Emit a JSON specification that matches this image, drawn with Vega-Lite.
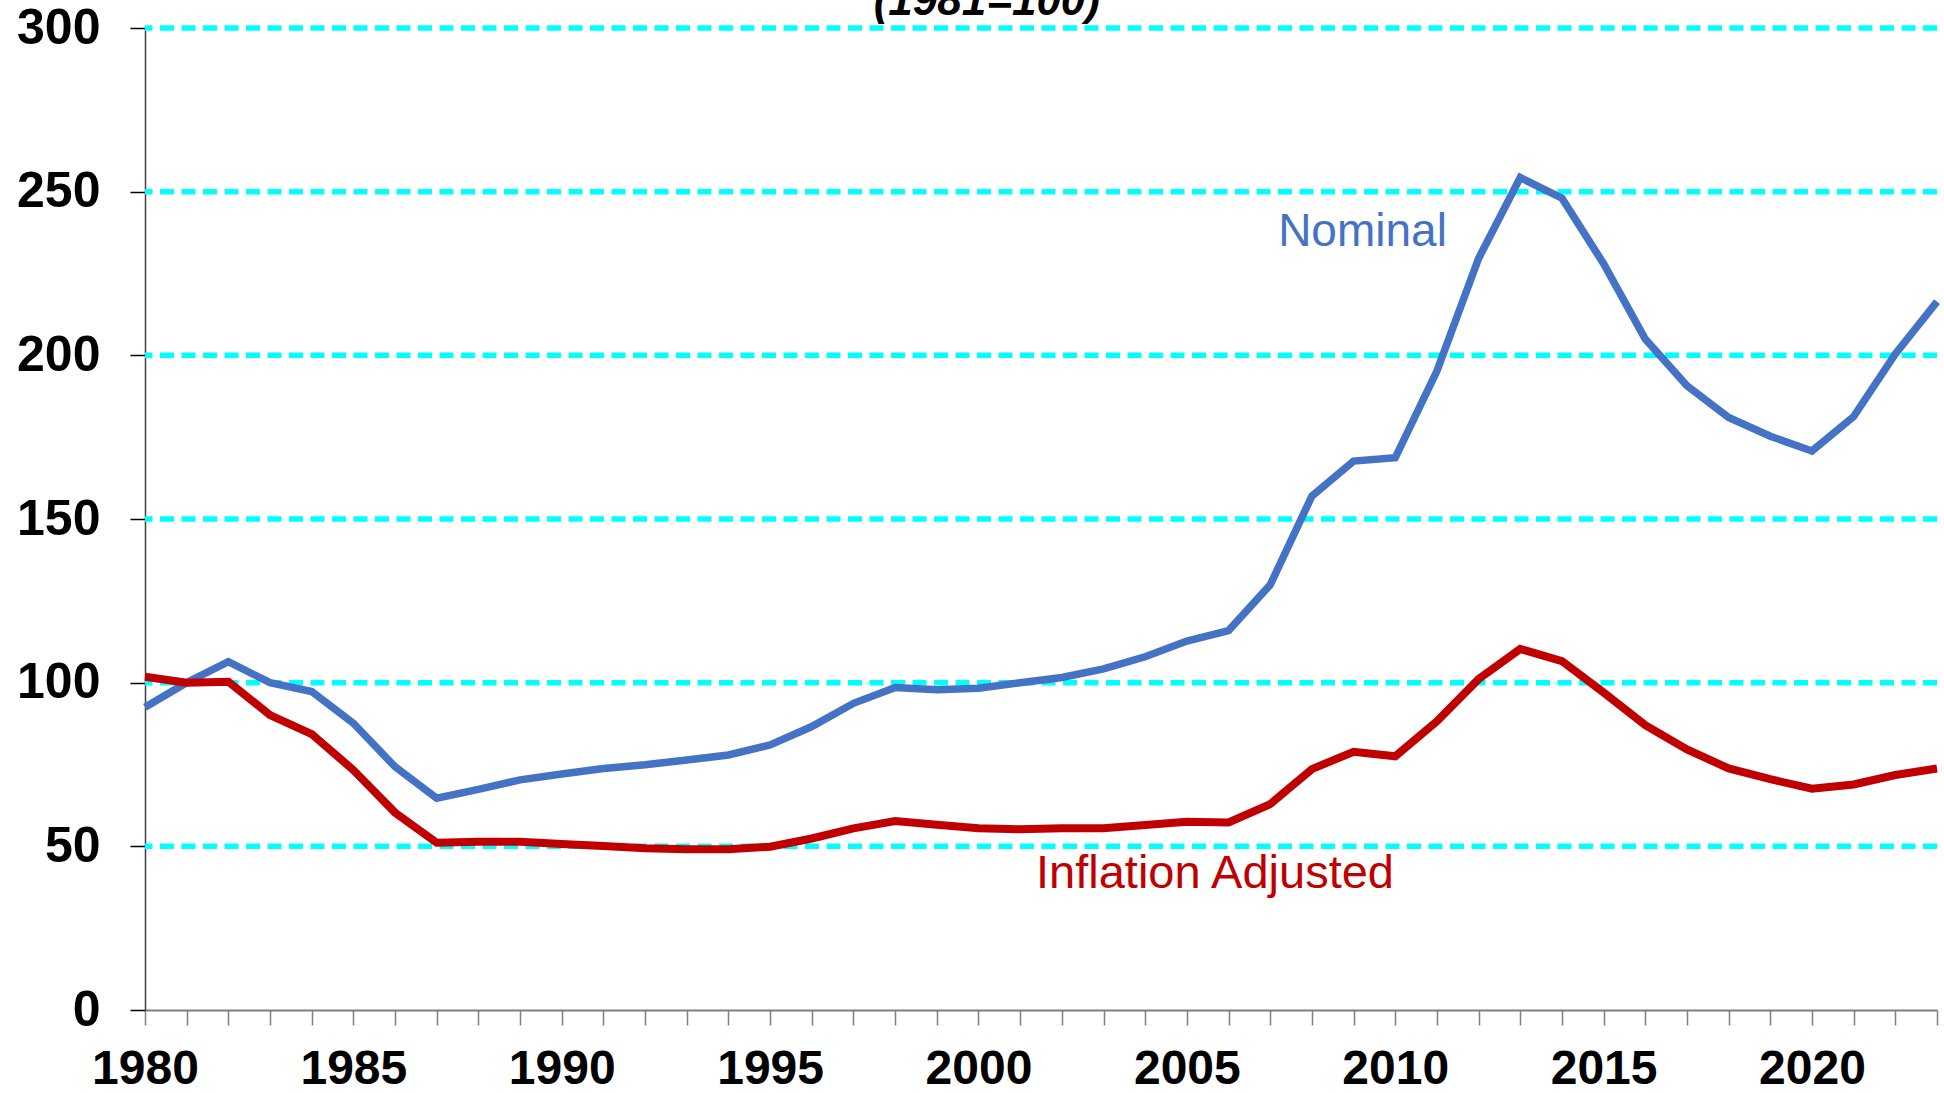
{
  "$schema": "https://vega.github.io/schema/vega-lite/v6.json",
  "width": 1792,
  "height": 982,
  "autosize": "none",
  "padding": {"left": 145, "top": 28, "right": 7, "bottom": 83},
  "background": "white",
  "config": {"view": {"stroke": null}},
  "datasets": {
    "series": [
      {"year": 1980, "series": "Nominal", "value": 92.5},
      {"year": 1981, "series": "Nominal", "value": 100},
      {"year": 1982, "series": "Nominal", "value": 106.4},
      {"year": 1983, "series": "Nominal", "value": 100.0},
      {"year": 1984, "series": "Nominal", "value": 97.3},
      {"year": 1985, "series": "Nominal", "value": 87.6},
      {"year": 1986, "series": "Nominal", "value": 74.3},
      {"year": 1987, "series": "Nominal", "value": 64.7},
      {"year": 1988, "series": "Nominal", "value": 67.4},
      {"year": 1989, "series": "Nominal", "value": 70.3},
      {"year": 1990, "series": "Nominal", "value": 72.1},
      {"year": 1991, "series": "Nominal", "value": 73.8},
      {"year": 1992, "series": "Nominal", "value": 74.9},
      {"year": 1993, "series": "Nominal", "value": 76.4},
      {"year": 1994, "series": "Nominal", "value": 77.9},
      {"year": 1995, "series": "Nominal", "value": 81.0},
      {"year": 1996, "series": "Nominal", "value": 86.6},
      {"year": 1997, "series": "Nominal", "value": 93.7},
      {"year": 1998, "series": "Nominal", "value": 98.5},
      {"year": 1999, "series": "Nominal", "value": 97.8},
      {"year": 2000, "series": "Nominal", "value": 98.3},
      {"year": 2001, "series": "Nominal", "value": 100.0},
      {"year": 2002, "series": "Nominal", "value": 101.6},
      {"year": 2003, "series": "Nominal", "value": 104.2},
      {"year": 2004, "series": "Nominal", "value": 107.9},
      {"year": 2005, "series": "Nominal", "value": 112.7},
      {"year": 2006, "series": "Nominal", "value": 115.9},
      {"year": 2007, "series": "Nominal", "value": 129.9},
      {"year": 2008, "series": "Nominal", "value": 157.0},
      {"year": 2009, "series": "Nominal", "value": 167.7},
      {"year": 2010, "series": "Nominal", "value": 168.7},
      {"year": 2011, "series": "Nominal", "value": 195.2},
      {"year": 2012, "series": "Nominal", "value": 229.6},
      {"year": 2013, "series": "Nominal", "value": 254.3},
      {"year": 2014, "series": "Nominal", "value": 248.0},
      {"year": 2015, "series": "Nominal", "value": 228.0},
      {"year": 2016, "series": "Nominal", "value": 205.0},
      {"year": 2017, "series": "Nominal", "value": 190.7},
      {"year": 2018, "series": "Nominal", "value": 181.0},
      {"year": 2019, "series": "Nominal", "value": 175.3},
      {"year": 2020, "series": "Nominal", "value": 170.8},
      {"year": 2021, "series": "Nominal", "value": 181.3},
      {"year": 2022, "series": "Nominal", "value": 200.4},
      {"year": 2023, "series": "Nominal", "value": 216.4},
      {"year": 1980, "series": "Inflation Adjusted", "value": 101.8},
      {"year": 1981, "series": "Inflation Adjusted", "value": 100},
      {"year": 1982, "series": "Inflation Adjusted", "value": 100.3},
      {"year": 1983, "series": "Inflation Adjusted", "value": 90.1},
      {"year": 1984, "series": "Inflation Adjusted", "value": 84.3},
      {"year": 1985, "series": "Inflation Adjusted", "value": 73.3},
      {"year": 1986, "series": "Inflation Adjusted", "value": 60.3},
      {"year": 1987, "series": "Inflation Adjusted", "value": 51.1},
      {"year": 1988, "series": "Inflation Adjusted", "value": 51.4},
      {"year": 1989, "series": "Inflation Adjusted", "value": 51.4},
      {"year": 1990, "series": "Inflation Adjusted", "value": 50.7},
      {"year": 1991, "series": "Inflation Adjusted", "value": 50.1},
      {"year": 1992, "series": "Inflation Adjusted", "value": 49.4},
      {"year": 1993, "series": "Inflation Adjusted", "value": 49.1},
      {"year": 1994, "series": "Inflation Adjusted", "value": 49.1},
      {"year": 1995, "series": "Inflation Adjusted", "value": 49.9},
      {"year": 1996, "series": "Inflation Adjusted", "value": 52.4},
      {"year": 1997, "series": "Inflation Adjusted", "value": 55.5},
      {"year": 1998, "series": "Inflation Adjusted", "value": 57.7},
      {"year": 1999, "series": "Inflation Adjusted", "value": 56.6},
      {"year": 2000, "series": "Inflation Adjusted", "value": 55.5},
      {"year": 2001, "series": "Inflation Adjusted", "value": 55.2},
      {"year": 2002, "series": "Inflation Adjusted", "value": 55.5},
      {"year": 2003, "series": "Inflation Adjusted", "value": 55.5},
      {"year": 2004, "series": "Inflation Adjusted", "value": 56.5},
      {"year": 2005, "series": "Inflation Adjusted", "value": 57.5},
      {"year": 2006, "series": "Inflation Adjusted", "value": 57.3},
      {"year": 2007, "series": "Inflation Adjusted", "value": 62.9},
      {"year": 2008, "series": "Inflation Adjusted", "value": 73.6},
      {"year": 2009, "series": "Inflation Adjusted", "value": 78.9},
      {"year": 2010, "series": "Inflation Adjusted", "value": 77.5},
      {"year": 2011, "series": "Inflation Adjusted", "value": 88.2},
      {"year": 2012, "series": "Inflation Adjusted", "value": 101.1},
      {"year": 2013, "series": "Inflation Adjusted", "value": 110.3},
      {"year": 2014, "series": "Inflation Adjusted", "value": 106.6},
      {"year": 2015, "series": "Inflation Adjusted", "value": 97.0},
      {"year": 2016, "series": "Inflation Adjusted", "value": 87.0},
      {"year": 2017, "series": "Inflation Adjusted", "value": 79.6},
      {"year": 2018, "series": "Inflation Adjusted", "value": 73.8},
      {"year": 2019, "series": "Inflation Adjusted", "value": 70.5},
      {"year": 2020, "series": "Inflation Adjusted", "value": 67.6},
      {"year": 2021, "series": "Inflation Adjusted", "value": 68.9},
      {"year": 2022, "series": "Inflation Adjusted", "value": 71.8},
      {"year": 2023, "series": "Inflation Adjusted", "value": 73.8}
    ],
    "grid": [{"v": 50}, {"v": 100}, {"v": 150}, {"v": 200}, {"v": 250}, {"v": 300}],
    "one": [{"k": 1}]
  },
  "layer": [
    {
      "data": {"name": "grid"},
      "mark": {"type": "rule", "color": "#00FFFF", "strokeWidth": 5.5, "strokeDash": [14, 7.5]},
      "encoding": {
        "y": {
          "field": "v", "type": "quantitative",
          "scale": {"domain": [0, 300], "nice": false},
          "axis": {
            "title": null, "grid": false,
            "values": [0, 50, 100, 150, 200, 250, 300],
            "labelFont": "Liberation Sans", "labelFontWeight": "bold", "labelFontSize": 50, "labelColor": "#000000",
            "labelPadding": 30,
            "tickSize": 15, "tickColor": "#000000", "tickWidth": 1.5,
            "domainColor": "#404040", "domainWidth": 1.5
          }
        }
      }
    },
    {
      "data": {"name": "series"},
      "transform": [{"filter": "datum.series === 'Nominal'"}],
      "mark": {"type": "line", "color": "#4472C4", "strokeWidth": 7.5, "strokeJoin": "miter", "clip": false},
      "encoding": {
        "x": {
          "field": "year", "type": "quantitative",
          "scale": {"domain": [1980, 2023], "nice": false, "zero": false},
          "axis": {
            "title": null, "grid": false,
            "values": [1980,1981,1982,1983,1984,1985,1986,1987,1988,1989,1990,1991,1992,1993,1994,1995,1996,1997,1998,1999,2000,2001,2002,2003,2004,2005,2006,2007,2008,2009,2010,2011,2012,2013,2014,2015,2016,2017,2018,2019,2020,2021,2022,2023],
            "format": "d",
            "labelExpr": "datum.value % 5 === 0 ? datum.label : ''",
            "labelOverlap": false, "labelFlush": false, "labelBound": false,
            "labelFont": "Liberation Sans", "labelFontWeight": "bold", "labelFontSize": 48, "labelColor": "#000000",
            "labelPadding": 20,
            "tickSize": 15, "tickColor": "#7f7f7f", "tickWidth": 1.5,
            "domainColor": "#7f7f7f", "domainWidth": 2
          }
        },
        "y": {
          "field": "value", "type": "quantitative",
          "axis": {
            "title": null, "grid": false,
            "values": [0, 50, 100, 150, 200, 250, 300],
            "labelFont": "Liberation Sans", "labelFontWeight": "bold", "labelFontSize": 50, "labelColor": "#000000",
            "labelPadding": 30,
            "tickSize": 15, "tickColor": "#000000", "tickWidth": 1.5,
            "domainColor": "#404040", "domainWidth": 1.5
          }
        }
      }
    },
    {
      "data": {"name": "series"},
      "transform": [{"filter": "datum.series === 'Inflation Adjusted'"}],
      "mark": {"type": "line", "color": "#C00000", "strokeWidth": 8, "strokeJoin": "miter", "clip": false},
      "encoding": {
        "x": {"field": "year", "type": "quantitative"},
        "y": {"field": "value", "type": "quantitative"}
      }
    },
    {
      "data": {"name": "one"},
      "mark": {"type": "text", "text": "Nominal", "font": "Liberation Sans", "fontSize": 46, "color": "#4472C4", "align": "left", "baseline": "alphabetic"},
      "encoding": {
        "x": {"datum": 2007.19, "type": "quantitative"},
        "y": {"datum": 233.4, "type": "quantitative"}
      }
    },
    {
      "data": {"name": "one"},
      "mark": {"type": "text", "text": "Inflation Adjusted", "font": "Liberation Sans", "fontSize": 47, "color": "#C00000", "align": "left", "baseline": "alphabetic"},
      "encoding": {
        "x": {"datum": 2001.38, "type": "quantitative"},
        "y": {"datum": 37.3, "type": "quantitative"}
      }
    },
    {
      "data": {"name": "one"},
      "mark": {"type": "text", "text": "(1981=100)", "font": "Liberation Sans", "fontSize": 44, "fontWeight": "bold", "fontStyle": "italic", "color": "#000000", "align": "center", "baseline": "alphabetic", "clip": false},
      "encoding": {
        "x": {"datum": 2000.2, "type": "quantitative"},
        "y": {"datum": 304.0, "type": "quantitative"}
      }
    }
  ]
}
